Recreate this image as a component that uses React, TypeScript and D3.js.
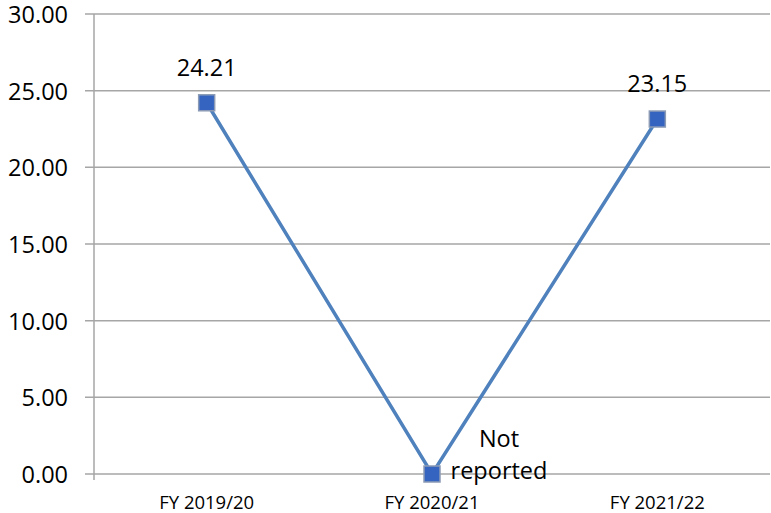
import React from "react";
import * as d3 from "d3";

const categories: string[] = ["FY 2019/20", "FY 2020/21", "FY 2021/22"];
const values: number[] = [24.21, 0, 23.15];
const dataLabels: string[] = ["24.21", "Not reported", "23.15"];
const yTicks: number[] = [0, 5, 10, 15, 20, 25, 30];

const W = 771;
const H = 513;
const left = 94;
const right = 770;
const top = 14;
const bottom = 474;
const font = "'Open Sans', 'Liberation Sans', sans-serif";

export default function App() {
  const x = d3.scaleBand<string>().domain(categories).range([left, right]);
  const y = d3.scaleLinear().domain([0, 30]).range([bottom, top]);
  const cx = (c: string) => (x(c) ?? 0) + x.bandwidth() / 2;
  const line = d3
    .line<number>()
    .x((_, i) => cx(categories[i]))
    .y((d) => y(d));

  return (
    <svg
      width={W}
      height={H}
      style={{ position: "absolute", left: 0, top: 0, background: "#fff" }}
    >
      {yTicks.map((t) => (
        <g key={t}>
          <line x1={85} x2={right} y1={y(t)} y2={y(t)} stroke="#a6a6a6" strokeWidth={1.5} />
          <text
            x={68}
            y={y(t)}
            textAnchor="end"
            dominantBaseline="central"
            fontSize={23.5}
            fontFamily={font}
            fill="#000"
          >
            {t.toFixed(2)}
          </text>
        </g>
      ))}
      <line x1={left} x2={left} y1={top} y2={bottom + 6} stroke="#a6a6a6" strokeWidth={1.5} />
      {categories.map((c) => (
        <text
          key={c}
          x={cx(c)}
          y={501}
          textAnchor="middle"
          dominantBaseline="central"
          fontSize={18.5}
          fontFamily={font}
          fill="#000"
        >
          {c}
        </text>
      ))}
      <path d={line(values) ?? ""} fill="none" stroke="#4f81bd" strokeWidth={3.5} />
      {values.map((v, i) => (
        <rect
          key={i}
          x={cx(categories[i]) - 8}
          y={y(v) - 8}
          width={16}
          height={16}
          fill="#3564c0"
          stroke="#8c9bb5"
          strokeWidth={1.5}
        />
      ))}
      {values.map((v, i) =>
        i === 1 ? (
          <text
            key={i}
            fontSize={23.5}
            fontFamily={font}
            fill="#000"
            textAnchor="middle"
            dominantBaseline="central"
          >
            <tspan x={cx(categories[i]) + 67} y={y(v) - 36}>Not</tspan>
            <tspan x={cx(categories[i]) + 67} y={y(v) - 4}>reported</tspan>
          </text>
        ) : (
          <text
            key={i}
            x={cx(categories[i])}
            y={y(v) - 36}
            textAnchor="middle"
            dominantBaseline="central"
            fontSize={23.5}
            fontFamily={font}
            fill="#000"
          >
            {dataLabels[i]}
          </text>
        )
      )}
    </svg>
  );
}
